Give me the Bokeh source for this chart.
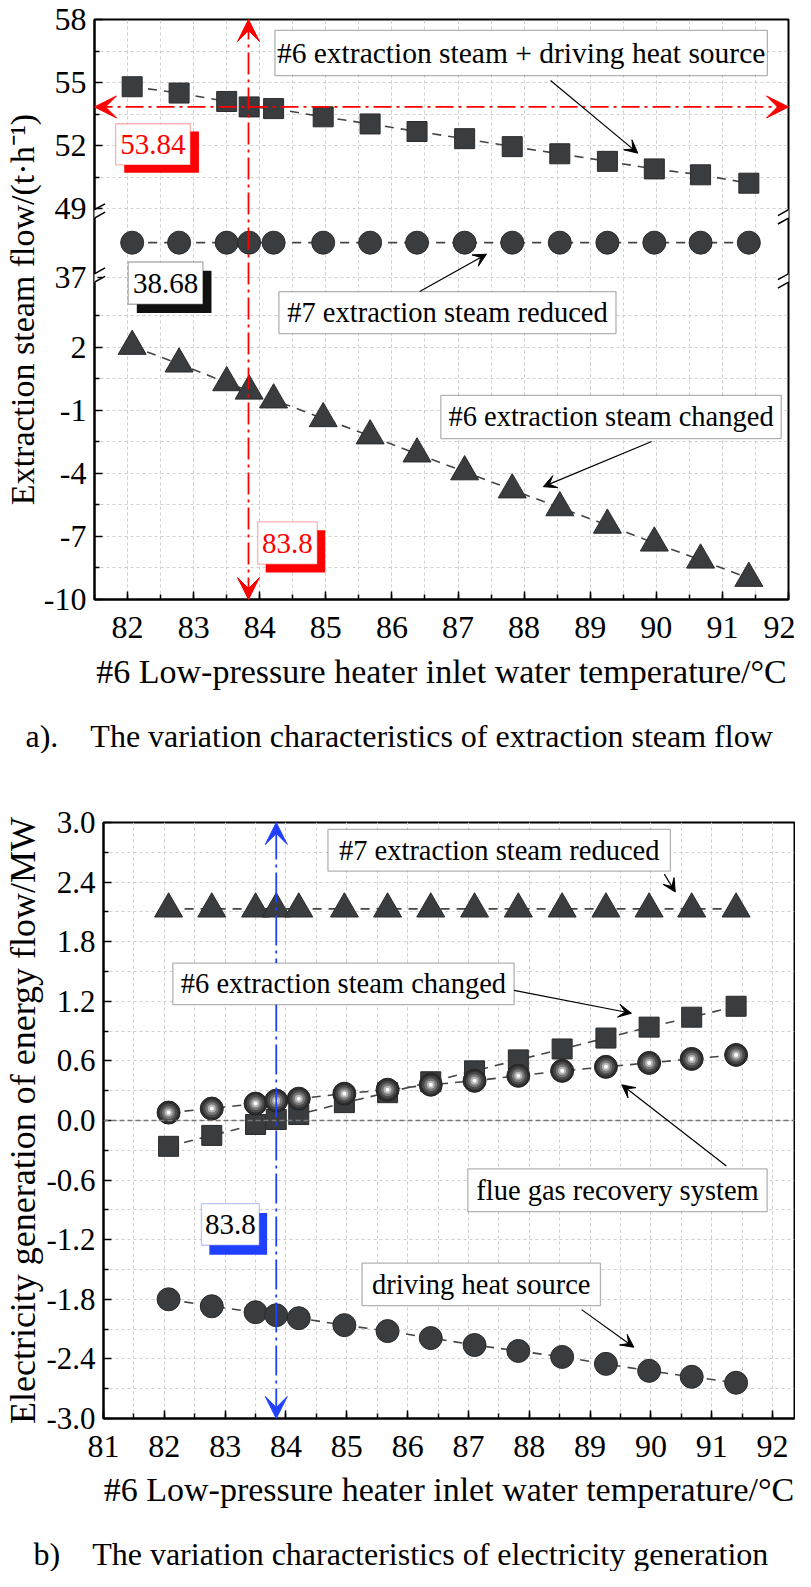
from bokeh.plotting import figure
from bokeh.models import (FixedTicker, SingleIntervalTicker, Range1d, Arrow, VeeHead,
                          BoxAnnotation, Label, Span, NumeralTickFormatter)
from bokeh.layouts import column
from bokeh.embed import file_html
from bokeh.resources import INLINE

FONT = "Liberation Serif"
DARK = "#3a3d40"
NB = "\u00a0"

# ---------------- data ----------------
temperature = [82.07, 82.78, 83.50, 83.84, 84.21, 84.96, 85.67, 86.38, 87.10,
               87.82, 88.54, 89.26, 89.97, 90.67, 91.40]

# (a) extraction steam flow, t/h
steam_six_plus_driving = [54.80, 54.50, 54.10, 53.84, 53.76, 53.37, 53.03, 52.67,
                          52.33, 51.95, 51.61, 51.25, 50.89, 50.61, 50.21]
steam_seven_reduced = [38.68, 38.68, 38.68, 38.68, 38.68, 38.68, 38.68, 38.68,
                       38.68, 38.68, 38.68, 38.68, 38.68, 38.68, 38.68]
steam_six_changed = [2.05, 1.21, 0.32, -0.08, -0.50, -1.39, -2.21, -3.07, -3.92,
                     -4.78, -5.63, -6.46, -7.31, -8.12, -8.99]

# (b) electricity generation, MW
mw_seven_reduced = [2.13, 2.13, 2.13, 2.13, 2.13, 2.13, 2.13, 2.13, 2.13, 2.13,
                    2.13, 2.13, 2.13, 2.13, 2.13]
mw_six_changed = [-0.26, -0.15, -0.04, 0.01, 0.06, 0.18, 0.28, 0.39, 0.50, 0.61,
                  0.72, 0.83, 0.94, 1.04, 1.15]
mw_flue_gas = [0.08, 0.12, 0.17, 0.20, 0.22, 0.27, 0.31, 0.36, 0.40, 0.45, 0.50,
               0.54, 0.58, 0.62, 0.66]
mw_driving = [-1.80, -1.87, -1.93, -1.96, -1.99, -2.06, -2.12, -2.19, -2.26, -2.32,
              -2.38, -2.45, -2.52, -2.58, -2.64]

marked_temperature = 83.8
marked_steam = 53.84

# broken-axis tick labels for (a)
lower_ticks = [-10, -7, -4, -1, 2]
lower_minor = [-8.5, -5.5, -2.5, 0.5, 3.5]
middle_ticks = [37]
upper_ticks = [49, 52, 55, 58]
upper_minor = [50.5, 53.5, 56.5]
MID_OFF = 31.7
UP_OFF = 40.4

elec_ticks = [-3.0, -2.4, -1.8, -1.2, -0.6, 0.0, 0.6, 1.2, 1.8, 2.4, 3.0]
elec_minor = [-2.7, -2.1, -1.5, -0.9, -0.3, 0.3, 0.9, 1.5, 2.1, 2.7]

X_TITLE = "#6 Low-pressure heater inlet water temperature/\u00b0C"
CAPTION_A = "a)." + NB * 4 + "The variation characteristics of extraction steam flow"
CAPTION_B = "b)" + NB * 4 + "The variation characteristics of electricity generation"


def no_align(p):
    try:
        p.frame_align = False
    except Exception:
        pass


def style(p, ylabel_size, label_standoff, title_standoff):
    no_align(p)
    p.outline_line_color = "black"
    p.outline_line_width = 2
    p.background_fill_color = "white"
    p.border_fill_color = "white"
    for ax in (p.xaxis[0], p.yaxis[0]):
        ax.axis_line_width = 2
        ax.axis_line_color = "black"
        ax.major_tick_in = 8
        ax.major_tick_out = 0
        ax.minor_tick_in = 5
        ax.minor_tick_out = 0
        ax.major_tick_line_width = 1.5
        ax.minor_tick_line_width = 1.5
        ax.major_tick_line_color = "black"
        ax.minor_tick_line_color = "black"
        ax.major_label_text_font = FONT
        ax.major_label_text_font_size = "32px"
        ax.major_label_text_color = "black"
        ax.axis_label_text_font = FONT
        ax.axis_label_text_font_style = "normal"
        ax.axis_label_text_color = "black"
    p.xaxis[0].axis_label_text_font_size = "34px"
    p.yaxis[0].axis_label_text_font_size = ylabel_size
    p.xaxis[0].major_label_standoff = label_standoff
    p.xaxis[0].axis_label_standoff = title_standoff
    p.yaxis[0].major_label_standoff = 8
    p.yaxis[0].axis_label_standoff = 0
    for g in (p.xgrid[0], p.ygrid[0]):
        g.grid_line_color = "#cfcfcf"
        g.grid_line_dash = "3 3"
        g.grid_line_width = 1
        g.minor_grid_line_color = "#cfcfcf"
        g.minor_grid_line_dash = "3 3"
        g.minor_grid_line_width = 1


def text_box(p, cx0, cx1, cy0, cy1, text, color="black", shadow=None, dx=0.0, dy=0.0,
             size="28.5px", border=None):
    if shadow is not None:
        p.add_layout(BoxAnnotation(left=cx0 + dx, right=cx1 + dx, bottom=cy0 - dy, top=cy1 - dy,
                                   fill_color=shadow, fill_alpha=1, line_color=None))
    p.add_layout(BoxAnnotation(left=cx0, right=cx1, bottom=cy0, top=cy1,
                               fill_color="white", fill_alpha=1,
                               line_color=border or "black", line_width=1.3))
    p.add_layout(Label(x=(cx0 + cx1) / 2, y=(cy0 + cy1) / 2, text=text,
                       text_align="center", text_baseline="middle",
                       text_font=FONT, text_font_size=size, text_color=color))


def pointer(p, x0, y0, x1, y1):
    p.add_layout(Arrow(x_start=x0, y_start=y0, x_end=x1, y_end=y1,
                       line_color="black", line_width=1.2,
                       end=VeeHead(size=13, fill_color="black", line_color="black")))


def caption_fig(text, height, x, y):
    c = figure(width=795, height=height, x_range=Range1d(0, 795), y_range=Range1d(0, height),
               output_backend="svg", toolbar_location=None, x_axis_type=None,
               y_axis_type=None, min_border=0, outline_line_color=None, title=None)
    no_align(c)
    c.min_border_left = 0
    c.min_border_right = 0
    c.min_border_top = 0
    c.min_border_bottom = 0
    c.background_fill_color = "white"
    c.border_fill_color = "white"
    c.add_layout(Label(x=x, y=y, text=text,
                       text_align="left", text_baseline="alphabetic",
                       text_font=FONT, text_font_size="32px", text_color="black"))
    return c


# =============== (a) ===============
p1 = figure(width=795, height=715, x_range=Range1d(81.5, 92), y_range=Range1d(-10, 17.6),
            output_backend="svg", toolbar_location=None,
            min_border_left=88, min_border_right=7, min_border_top=19, min_border_bottom=116)
p1.extra_y_ranges = {"upper": Range1d(-10 + UP_OFF, 17.6 + UP_OFF),
                     "middle": Range1d(-10 + MID_OFF, 17.6 + MID_OFF)}
style(p1, "34px", 17, 12)
p1.xaxis[0].ticker = SingleIntervalTicker(interval=1, num_minor_ticks=2)
p1.xaxis[0].axis_label = X_TITLE
p1.yaxis[0].axis_label = "Extraction steam flow/(t\u00b7h\u207b\u00b9)"

maj = [float(v) for v in lower_ticks] + [round(v - MID_OFF, 3) for v in middle_ticks] + \
      [round(v - UP_OFF, 3) for v in upper_ticks]
labs = [str(v) for v in lower_ticks + middle_ticks + upper_ticks]
mnr = list(lower_minor) + [round(v - UP_OFF, 3) for v in upper_minor]
p1.yaxis[0].ticker = FixedTicker(ticks=maj, minor_ticks=mnr)
p1.yaxis[0].major_label_overrides = {m: l for m, l in zip(maj, labs)}

# series
p1.line(temperature, steam_six_plus_driving, y_range_name="upper",
        line_color="#444444", line_width=1.6, line_dash="9 7")
p1.scatter(temperature, steam_six_plus_driving, y_range_name="upper", marker="square",
           size=20, fill_color=DARK, line_color="#2a2a2a")
p1.line(temperature, steam_seven_reduced, y_range_name="middle",
        line_color="#444444", line_width=1.6, line_dash="9 7")
p1.scatter(temperature, steam_seven_reduced, y_range_name="middle", marker="circle",
           size=23, fill_color=DARK, line_color="#2a2a2a")
p1.line(temperature, steam_six_changed, line_color="#444444", line_width=1.6, line_dash="9 7")
p1.scatter(temperature, steam_six_changed, marker="triangle", size=28,
           fill_color=DARK, line_color="#2a2a2a")

# axis breaks
for xc in (81.5, 92.0):
    for dc in (8.35, 5.3):
        p1.add_layout(Arrow(x_start=xc, y_start=dc - 0.2, x_end=xc, y_end=dc + 0.2,
                            line_color="white", line_width=6, end=None))
        for s in (-0.2, 0.2):
            p1.add_layout(Arrow(x_start=xc - 0.16, y_start=dc + s - 0.28,
                                x_end=xc + 0.16, y_end=dc + s + 0.28,
                                line_color="black", line_width=1.5, end=None))

# red guide lines
p1.add_layout(Arrow(x_start=marked_temperature + 0.03, y_start=-10,
                    x_end=marked_temperature + 0.03, y_end=17.6,
                    line_color="red", line_width=1.8, line_dash="22 5 3 5",
                    start=VeeHead(size=22, fill_color="red", line_color="red"),
                    end=VeeHead(size=22, fill_color="red", line_color="red")))
p1.add_layout(Arrow(x_start=81.5, y_start=marked_steam, x_end=92, y_end=marked_steam,
                    y_range_name="upper",
                    line_color="red", line_width=1.8, line_dash="18 5 3 5",
                    start=VeeHead(size=22, fill_color="red", line_color="red"),
                    end=VeeHead(size=22, fill_color="red", line_color="red")))

# annotation boxes
text_box(p1, 81.82, 82.95, 10.68, 12.64, "53.84", color="red", shadow="red",
         dx=0.13, dy=0.37, border="red", size="29px")
text_box(p1, 82.01, 83.14, 4.05, 6.06, "38.68", shadow="#111111", dx=0.13, dy=0.42, size="29px")
text_box(p1, 83.97, 84.87, -8.32, -6.31, "83.8", color="red", shadow="red",
         dx=0.12, dy=0.40, border="red", size="29px")
text_box(p1, 84.23, 91.68, 14.93, 17.08, "#6 extraction steam + driving heat source", size="29.5px")
pointer(p1, 88.40, 14.70, 89.72, 11.24)
text_box(p1, 84.29, 89.39, 2.65, 4.65, "#7 extraction steam reduced")
pointer(p1, 86.42, 4.66, 87.43, 6.43)
text_box(p1, 86.74, 91.89, -2.34, -0.29, "#6 extraction steam changed")
pointer(p1, 89.93, -2.48, 88.29, -4.63)

cap_a = caption_fig(CAPTION_A, 38, 25, 18)

# =============== (b) ===============
p2 = figure(width=795, height=780, x_range=Range1d(81, 92.36), y_range=Range1d(-3, 3),
            output_backend="svg", toolbar_location=None,
            min_border_left=94, min_border_right=1, min_border_top=69, min_border_bottom=115)
style(p2, "36px", 17, 11)
p2.yaxis[0].major_label_text_font_size = "31px"
p2.xaxis[0].ticker = SingleIntervalTicker(interval=1, num_minor_ticks=2)
p2.yaxis[0].ticker = FixedTicker(ticks=elec_ticks, minor_ticks=elec_minor)
p2.yaxis[0].formatter = NumeralTickFormatter(format="0.0")
p2.xaxis[0].axis_label = X_TITLE
p2.yaxis[0].axis_label = "Electricity generation of energy flow/MW"

p2.add_layout(Span(location=0, dimension="width", line_color="#777777",
                   line_dash="5 3", line_width=1.5))

for ys, mk, sz in ((mw_seven_reduced, "triangle", 28), (mw_six_changed, "square", 20),
                   (mw_driving, "circle", 23)):
    p2.line(temperature, ys, line_color="#444444", line_width=1.6, line_dash="9 7")
    p2.scatter(temperature, ys, marker=mk, size=sz, fill_color=DARK, line_color="#2a2a2a")
p2.line(temperature, mw_flue_gas, line_color="#444444", line_width=1.6, line_dash="9 7")
for sz, col in ((23, "#2e2e2e"), (18, "#4a4a4a"), (13, "#777777"), (8, "#b5b5b5"), (4, "#ffffff")):
    p2.scatter(temperature, mw_flue_gas, marker="circle", size=sz, fill_color=col,
               line_color="#222222" if sz == 23 else None)

p2.add_layout(Arrow(x_start=marked_temperature + 0.04, y_start=-3,
                    x_end=marked_temperature + 0.04, y_end=3,
                    line_color="#2040ff", line_width=1.8, line_dash="30 5 3 5",
                    start=VeeHead(size=22, fill_color="#2040ff", line_color="#2040ff"),
                    end=VeeHead(size=22, fill_color="#2040ff", line_color="#2040ff")))

text_box(p2, 82.61, 83.56, -1.256, -0.837, "83.8", shadow="#2040ff", dx=0.13,
         dy=0.095, border="#2040ff", size="29px")
text_box(p2, 84.69, 90.32, 2.51, 2.93, "#7 extraction steam reduced")
pointer(p2, 90.22, 2.48, 90.40, 2.30)
text_box(p2, 82.14, 87.75, 1.166, 1.585, "#6 extraction steam changed")
pointer(p2, 87.75, 1.31, 89.68, 1.08)
text_box(p2, 86.99, 91.91, -0.917, -0.488, "flue gas recovery system")
pointer(p2, 91.24, -0.459, 89.52, 0.359)
text_box(p2, 85.25, 89.17, -1.864, -1.435, "driving heat source")
pointer(p2, 88.86, -1.904, 89.72, -2.283)

cap_b = caption_fig(CAPTION_B, 38, 33, 18)

layout = column(p1, cap_a, p2, cap_b, spacing=0)
open("out.html", "w").write(file_html(layout, INLINE))
